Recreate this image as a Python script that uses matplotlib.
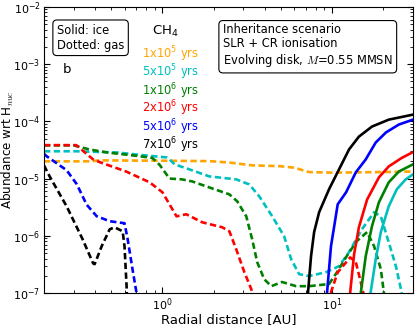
import numpy as np
import matplotlib
matplotlib.use('Agg')
import matplotlib.pyplot as plt

plt.rcParams['mathtext.fontset'] = 'cm'
plt.rcParams['xtick.direction'] = 'in'
plt.rcParams['ytick.direction'] = 'in'

# gas phase (dashed) abundances of CH4
r_gas_1e5 = [0.2, 0.38, 0.42, 1.0, 1.89, 2.5, 3.4, 4.9, 6.0, 7.3, 10, 20, 30]
x_gas_1e5 = [2.0e-5, 2.0e-5, 2.08e-5, 2.05e-5, 2.02e-5, 1.9e-5, 1.7e-5, 1.65e-5, 1.55e-5, 1.3e-5, 1.27e-5, 1.3e-5, 1.33e-5]

r_gas_5e5 = [0.2, 0.31, 0.54, 0.73, 1.06, 1.1, 1.18, 1.44, 1.89, 2.72, 3.25, 3.72, 4.44, 5.22, 5.74,
             6.4, 7.32, 9.22, 11.0, 12.6, 15.0, 17.7, 19.4, 21.6, 23.8, 25.5, 27.0]
x_gas_5e5 = [3.0e-5, 3.0e-5, 2.86e-5, 2.6e-5, 2.34e-5, 2.16e-5, 1.77e-5, 1.45e-5, 1.09e-5, 9.7e-6, 7.9e-6,
             4.9e-6, 2.19e-6, 9.8e-7, 3.9e-7, 2.14e-7, 1.98e-7, 2.32e-7, 2.95e-7, 5.2e-7, 1.3e-6, 2.58e-6,
             2.19e-6, 7.7e-7, 2.95e-7, 1.17e-7, 5e-8]

r_gas_1e6 = [0.2, 0.3, 0.37, 0.47, 0.67, 0.87, 0.96, 1.1, 1.3, 1.5, 1.89, 2.48, 2.76, 3.12, 3.38, 3.62,
             3.98, 4.38, 5.08, 6.14, 7.32, 9.6, 10.7, 12.2, 14.0, 16.1, 17.7, 19.4, 20.2, 21.0]
x_gas_1e6 = [3.8e-5, 3.8e-5, 3.23e-5, 2.86e-5, 2.54e-5, 2.3e-5, 1.75e-5, 1.0e-5, 9.7e-6, 8.9e-6, 7.0e-6,
             5.3e-6, 4.0e-6, 2.19e-6, 8.7e-7, 3.47e-7, 1.75e-7, 1.32e-7, 1.56e-7, 1.32e-7, 1.32e-7, 1.44e-7,
             2.32e-7, 4.4e-7, 8.1e-7, 1.16e-6, 6.6e-7, 2.62e-7, 1.04e-7, 5e-8]

r_gas_2e6 = [0.2, 0.31, 0.39, 0.43, 0.61, 0.84, 1.0, 1.21, 1.38, 1.72, 2.25, 2.48, 2.72, 3.04, 3.34, 3.5,
             9.5, 9.86, 10.8, 12.8, 13.8, 14.6, 15.3, 15.6]
x_gas_2e6 = [3.84e-5, 3.84e-5, 2.16e-5, 1.92e-5, 1.33e-5, 8.6e-6, 5.75e-6, 2.19e-6, 2.38e-6, 1.72e-6, 1.41e-6,
             1.2e-6, 5.85e-7, 2.32e-7, 1.17e-7, 5e-8, 5e-8, 1.04e-7, 2.3e-7, 4.2e-7, 3.5e-7, 1.8e-7,
             1.0e-7, 5e-8]

r_gas_5e6 = [0.2, 0.208, 0.272, 0.312, 0.357, 0.409, 0.488, 0.597, 0.622, 0.667, 0.703, 0.72]
x_gas_5e6 = [2.7e-5, 2.44e-5, 1.4e-5, 8e-6, 3.5e-6, 2.2e-6, 1.8e-6, 1.66e-6, 9e-7, 2.5e-7, 1.0e-7, 5e-8]

r_gas_7e6 = [0.2, 0.216, 0.272, 0.338, 0.39, 0.398, 0.438, 0.488, 0.522, 0.582, 0.597, 0.614, 0.62]
x_gas_7e6 = [1.7e-5, 1.09e-5, 3.28e-6, 8.7e-7, 3.3e-7, 3.2e-7, 6.6e-7, 1.3e-6, 1.41e-6, 1.2e-6, 6.6e-7,
             1.32e-7, 5e-8]

# ice (solid) abundances of CH4
r_ice_5e5 = [16.5, 16.9, 18.1, 19.4, 21.6, 24.1, 27.2, 30]
x_ice_5e5 = [5e-8, 1.04e-7, 3.9e-7, 1.16e-6, 3.28e-6, 6.5e-6, 9.7e-6, 1.18e-5]

r_ice_1e6 = [14.5, 14.8, 15.8, 17.2, 18.9, 21.6, 24.8, 30]
x_ice_1e6 = [5e-8, 1.04e-7, 4.4e-7, 1.47e-6, 3.85e-6, 8.6e-6, 1.33e-5, 1.77e-5]

r_ice_2e6 = [12.5, 12.8, 13.5, 14.4, 16.1, 18.9, 21.6, 25.8, 30]
x_ice_2e6 = [5e-8, 1.04e-7, 4.8e-7, 1.41e-6, 4.3e-6, 1.05e-5, 1.63e-5, 2.3e-5, 2.9e-5]

r_ice_5e6 = [9.2, 9.35, 9.86, 10.3, 10.8, 12.1, 13.8, 15.8, 18.1, 20.8, 24.8, 30]
x_ice_5e6 = [5e-8, 1.04e-7, 6.6e-7, 1.47e-6, 3.55e-6, 5.75e-6, 1.28e-5, 2.16e-5, 4.27e-5, 6.4e-5, 8.8e-5, 1.07e-4]

r_ice_7e6 = [7.1, 7.22, 7.52, 7.84, 8.39, 9.6, 11.0, 12.6, 14.4, 17.2, 21.6, 30]
x_ice_7e6 = [5e-8, 1.04e-7, 4.4e-7, 1.16e-6, 2.58e-6, 6.5e-6, 1.45e-5, 3.23e-5, 5.4e-5, 8.1e-5, 1.07e-4, 1.31e-4]

time_labels = ['1x10$\\mathregular{^5}$ yrs', '5x10$\\mathregular{^5}$ yrs', '1x10$\\mathregular{^6}$ yrs',
               '2x10$\\mathregular{^6}$ yrs', '5x10$\\mathregular{^6}$ yrs', '7x10$\\mathregular{^6}$ yrs']
colors = ['orange', 'c', 'g', 'r', 'b', 'k']

fig = plt.figure(figsize=(4.15, 3.26), dpi=100)
ax = fig.add_axes([0.106, 0.101, 0.889, 0.878])

gas = [(r_gas_1e5, x_gas_1e5), (r_gas_5e5, x_gas_5e5), (r_gas_1e6, x_gas_1e6),
       (r_gas_2e6, x_gas_2e6), (r_gas_5e6, x_gas_5e6), (r_gas_7e6, x_gas_7e6)]
for (r, x), c in zip(gas, colors):
    ax.plot(r, x, color=c, lw=1.9, linestyle=(0, (2.4, 1.3)))

ice = [(r_ice_5e5, x_ice_5e5), (r_ice_1e6, x_ice_1e6), (r_ice_2e6, x_ice_2e6),
       (r_ice_5e6, x_ice_5e6), (r_ice_7e6, x_ice_7e6)]
for (r, x), c in zip(ice, colors[1:]):
    ax.plot(r, x, color=c, lw=1.9)

ax.set_xscale('log')
ax.set_yscale('log')
ax.set_xlim(0.2, 30)
ax.set_ylim(1e-7, 1e-2)
ax.tick_params(which='both', top=True, right=True, labelsize=8, pad=2.5)
ax.tick_params(which='major', length=4)
ax.tick_params(which='minor', length=2)
ax.set_xlabel('Radial distance [AU]', fontsize=9.5, labelpad=0)
ax.set_ylabel('Abundance wrt H$_{nuc}$', fontsize=8.6)
ax.yaxis.set_label_coords(-0.077, 0.5)

box = dict(boxstyle='round,pad=0.35', fc='white', ec='k', lw=0.8)
ax.text(0.035, 0.94, 'Solid: ice\nDotted: gas', transform=ax.transAxes, fontsize=8.3,
        va='top', ha='left', bbox=box, linespacing=1.15)
ax.text(0.292, 0.913, 'CH$\\mathregular{_4}$', transform=ax.transAxes, fontsize=9.5, va='center')
ax.text(0.05, 0.78, 'b', transform=ax.transAxes, fontsize=9.5, va='center')
ypos = [0.833, 0.770, 0.707, 0.645, 0.578, 0.516]
for lab, c, yy in zip(time_labels, colors, ypos):
    ax.text(0.266, yy, lab, transform=ax.transAxes, fontsize=8.3, color=c, va='center')
ax.text(0.485, 0.945, 'Inheritance scenario\nSLR + CR ionisation\nEvolving disk, $M$=0.55 MMSN',
        transform=ax.transAxes, fontsize=8.3, va='top', ha='left', bbox=box, linespacing=1.15)

fig.savefig('out.png', dpi=100)
